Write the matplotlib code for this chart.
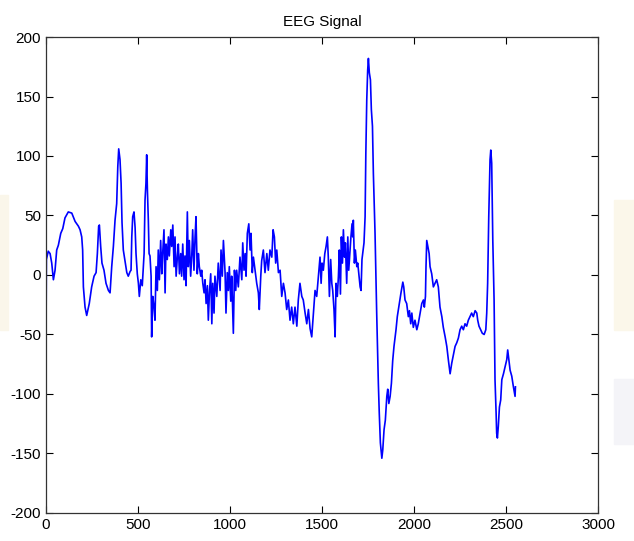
import matplotlib
matplotlib.use("Agg")
import matplotlib.pyplot as plt
from matplotlib.patches import Rectangle

# échantillons (indice, amplitude)
sample = [
    0, 2, 12, 22, 31, 40, 49, 58, 67, 80, 91, 103, 121, 140, 158, 176, 185, 194, 199, 203,
    212, 221, 235, 248, 261, 272, 279, 286, 290, 297, 304, 315, 326, 339, 348, 357, 366, 375, 384, 390,
    395, 402, 408, 413, 420, 429, 439, 447, 457, 462, 466, 471, 478, 484, 489, 496, 502, 507, 515, 523,
    533, 538, 543, 547, 551, 556, 560, 565, 571, 574, 580, 587, 592, 598, 605, 610, 616, 623, 629, 634,
    641, 647, 652, 659, 665, 670, 678, 683, 689, 696, 701, 707, 714, 719, 725, 732, 737, 743, 750, 755,
    761, 768, 773, 779, 786, 792, 797, 804, 810, 815, 822, 828, 833, 841, 846, 852, 859, 864, 870, 877,
    882, 888, 895, 901, 906, 913, 918, 928, 936, 946, 951, 958, 964, 973, 978, 985, 991, 996, 1004, 1009,
    1018, 1024, 1031, 1036, 1045, 1054, 1064, 1069, 1076, 1082, 1087, 1094, 1102, 1109, 1114, 1121, 1127, 1136, 1145, 1154,
    1159, 1167, 1172, 1181, 1190, 1200, 1208, 1217, 1227, 1234, 1241, 1248, 1254, 1263, 1272, 1281, 1290, 1299, 1308, 1317,
    1326, 1335, 1344, 1353, 1363, 1371, 1380, 1390, 1398, 1408, 1417, 1426, 1435, 1444, 1449, 1457, 1462, 1471, 1480, 1489,
    1495, 1500, 1507, 1515, 1522, 1529, 1534, 1540, 1547, 1553, 1558, 1565, 1571, 1576, 1583, 1589, 1594, 1600, 1605, 1611,
    1616, 1622, 1627, 1634, 1640, 1645, 1652, 1657, 1663, 1667, 1670, 1676, 1681, 1689, 1694, 1701, 1707, 1712, 1717, 1723,
    1728, 1734, 1738, 1743, 1748, 1752, 1757, 1763, 1768, 1774, 1779, 1788, 1797, 1806, 1811, 1817, 1825, 1830, 1837, 1844,
    1852, 1857, 1863, 1870, 1877, 1884, 1891, 1902, 1909, 1920, 1929, 1939, 1944, 1951, 1960, 1969, 1975, 1982, 1988, 1996,
    2005, 2015, 2023, 2033, 2042, 2051, 2056, 2062, 2065, 2069, 2075, 2082, 2087, 2096, 2105, 2114, 2123, 2132, 2141, 2151,
    2159, 2169, 2178, 2187, 2196, 2205, 2214, 2223, 2232, 2241, 2250, 2259, 2268, 2277, 2286, 2295, 2304, 2313, 2322, 2332,
    2341, 2346, 2353, 2362, 2371, 2381, 2390, 2395, 2400, 2406, 2413, 2417, 2422, 2428, 2435, 2440, 2446, 2449, 2453, 2458,
    2464, 2471, 2477, 2486, 2495, 2504, 2509, 2515, 2522, 2531, 2540, 2549, 2551,
]
amplitude = [
    -50, 13, 20, 18, 10, -4, 4, 21, 25, 35, 39, 48, 53, 52, 45, 41, 38, 32, 21, -10,
    -27, -34, -24, -10, -1, 2, 18, 41, 42, 24, 10, 4, -7, -13, -15, 7, 24, 46, 60, 91,
    106, 97, 77, 44, 21, 12, 2, -1, 3, 4, 32, 49, 53, 40, 18, 1, -7, -18, -4, -9,
    18, 63, 77, 101, 71, 46, 18, 16, -1, -52, -18, -27, -38, 7, -13, 21, -4, 29, 1, 18,
    38, -15, 26, 13, 32, 16, 38, 24, 42, 7, 32, -1, 16, 26, 1, 18, -1, 26, -4, 16,
    -9, 53, 7, 29, -1, 16, 38, 4, 32, 49, 1, 18, 7, -1, 4, -7, -15, -4, -24, -9,
    -38, -15, 1, -41, -7, -32, -1, -18, 10, -13, 21, -1, 29, 2, -32, 2, -13, 7, -22, -1,
    -49, 4, -13, 4, -10, 15, -4, 27, 4, 18, -1, 35, 43, 21, 35, 2, 15, 4, -7, -15,
    -29, -1, 12, 21, 2, 18, 4, 21, 15, 38, 32, 10, 21, 2, 4, -18, -7, -15, -29, -21,
    -38, -27, -41, -27, -43, -21, -7, -18, -21, -32, -41, -29, -45, -52, -41, -24, -13, -18, -1, 15,
    -7, 10, 4, 18, 24, 32, 15, -18, 13, -7, -13, -29, -52, -7, -18, -1, 21, -16, 32, 10,
    38, 15, 27, -7, 32, 4, 21, 32, 43, 32, 46, 10, 21, 7, 10, -1, -10, -13, 13, 21,
    27, 49, 102, 147, 172, 182, 170, 164, 139, 125, 85, 35, -32, -91, -116, -141, -154, -147, -130, -122,
    -102, -96, -108, -102, -91, -72, -60, -46, -35, -24, -15, -6, -10, -21, -24, -35, -30, -41, -32, -44,
    -38, -46, -41, -32, -24, -21, -27, -18, 7, 29, 24, 18, 7, 1, -10, -7, -4, -10, -27, -35,
    -44, -52, -60, -72, -83, -74, -67, -60, -57, -53, -46, -43, -46, -41, -43, -38, -35, -32, -35, -30,
    -32, -38, -43, -46, -49, -50, -46, -32, -7, 49, 97, 105, 94, 29, -21, -88, -116, -133, -137, -127,
    -111, -105, -88, -83, -77, -71, -63, -71, -80, -85, -94, -102, -94,
]

x_ticks = [0, 500, 1000, 1500, 2000, 2500, 3000]
y_ticks = [-200, -150, -100, -50, 0, 50, 100, 150, 200]

plt.rcParams['font.family'] = ['Liberation Sans', 'DejaVu Sans']
plt.rcParams['axes.unicode_minus'] = False

fig = plt.figure(figsize=(6.34, 5.41), dpi=100)
fig.patch.set_facecolor('white')

# bords flous de la diapo derrière la capture
fig.patches.append(Rectangle((0, 0.39), 0.012, 0.25, transform=fig.transFigure,
                             color='#faf6ea', zorder=0))
fig.patches.append(Rectangle((0.968, 0.39), 0.032, 0.24, transform=fig.transFigure,
                             color='#fbf7ea', zorder=0))
fig.patches.append(Rectangle((0.968, 0.18), 0.032, 0.12, transform=fig.transFigure,
                             color='#f4f4f8', zorder=0))

ax = fig.add_axes([0.0726, 0.0518, 0.8707, 0.8798])
ax.plot(sample, amplitude, color='#0000ff', linewidth=1.2)

ax.set_xlim(0, 3000)
ax.set_ylim(-200, 200)
ax.set_xticks(x_ticks)
ax.set_yticks(y_ticks)
ax.tick_params(direction='in', length=5, width=0.8, top=True, right=True,
               labelsize=11, colors='black')
for s in ax.spines.values():
    s.set_linewidth(0.9)
    s.set_color('#333333')
ax.set_title('EEG Signal', fontsize=11, pad=8)

fig.savefig('out.png', dpi=100)
